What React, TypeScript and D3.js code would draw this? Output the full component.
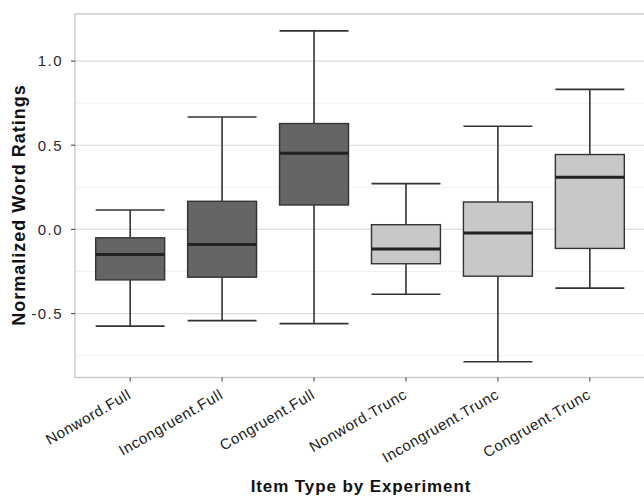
import React from "react";
import * as d3 from "d3";

const categories = ["Nonword.Full", "Incongruent.Full", "Congruent.Full", "Nonword.Trunc", "Incongruent.Trunc", "Congruent.Trunc"];
const lowerWhisker = [-0.575, -0.542, -0.56, -0.385, -0.786, -0.349];
const q1 = [-0.3, -0.284, 0.145, -0.204, -0.278, -0.113];
const median = [-0.149, -0.089, 0.452, -0.117, -0.022, 0.31];
const q3 = [-0.05, 0.167, 0.629, 0.028, 0.163, 0.445];
const upperWhisker = [0.115, 0.668, 1.18, 0.272, 0.613, 0.832];
const experiment = ["Full", "Full", "Full", "Trunc", "Trunc", "Trunc"];
const yTicks = [-0.5, 0.0, 0.5, 1.0];
const yMinor = [-0.75, -0.25, 0.25, 0.75];

const W = 644, H = 497;
const left = 75, right = 645, top = 14, bottom = 377.5;

export default function App() {
  const y = d3.scaleLinear().domain([-0.88, 1.28]).range([bottom, top]);
  const x = d3.scaleLinear().domain([0.4, 6.6]).range([left, right]);
  const fill = d3.scaleOrdinal<string, string>().domain(["Full", "Trunc"]).range(["#656565", "#c8c8c8"]);
  const bw = 0.75 * (x(2) - x(1));
  const font = "Liberation Sans, Arial, sans-serif";
  const fmt = (v: number) => d3.format(".1f")(v).replace("\u2212", "-");
  return (
    <svg width={W} height={H} style={{ position: "absolute", left: 0, top: 0 }} fontFamily={font}>
      <rect x={0} y={0} width={W} height={H} fill="#fff" />
      {yMinor.map((v) => (
        <line key={"m" + v} x1={left} x2={right} y1={y(v)} y2={y(v)} stroke="#f2f2f2" strokeWidth={1} />
      ))}
      {yTicks.map((v) => (
        <line key={"g" + v} x1={left} x2={right} y1={y(v)} y2={y(v)} stroke="#dcdcdc" strokeWidth={1.2} />
      ))}
      <rect x={left} y={top} width={right - left} height={bottom - top} fill="none" stroke="#c4c4c4" strokeWidth={1.3} />
      {categories.map((c, i) => {
        const cx = x(i + 1);
        return (
          <g key={c}>
            <line x1={cx} x2={cx} y1={y(upperWhisker[i])} y2={y(q3[i])} stroke="#333" strokeWidth={1.6} />
            <line x1={cx} x2={cx} y1={y(q1[i])} y2={y(lowerWhisker[i])} stroke="#333" strokeWidth={1.6} />
            <line x1={cx - bw / 2} x2={cx + bw / 2} y1={y(upperWhisker[i])} y2={y(upperWhisker[i])} stroke="#333" strokeWidth={1.6} />
            <line x1={cx - bw / 2} x2={cx + bw / 2} y1={y(lowerWhisker[i])} y2={y(lowerWhisker[i])} stroke="#333" strokeWidth={1.6} />
            <rect x={cx - bw / 2} y={y(q3[i])} width={bw} height={y(q1[i]) - y(q3[i])} fill={fill(experiment[i])} stroke="#333" strokeWidth={1.4} />
            <line x1={cx - bw / 2} x2={cx + bw / 2} y1={y(median[i])} y2={y(median[i])} stroke="#222" strokeWidth={3} />
            <line x1={cx} x2={cx} y1={bottom} y2={bottom + 4} stroke="#555" strokeWidth={1.2} />
            <text
              transform={`translate(${cx + 2},${bottom + 20}) rotate(-30)`}
              textAnchor="end"
              fontSize={15}
              letterSpacing={0.6}
              fill="#1a1a1a"
            >
              {c}
            </text>
          </g>
        );
      })}
      {yTicks.map((v) => (
        <g key={"t" + v}>
          <line x1={left - 4} x2={left} y1={y(v)} y2={y(v)} stroke="#555" strokeWidth={1.2} />
          <text x={left - 12} y={y(v)} dy="0.35em" textAnchor="end" fontSize={15} letterSpacing={1.5} fill="#2a2a2a">
            {fmt(v)}
          </text>
        </g>
      ))}
      <text transform={`translate(25,205) rotate(-90)`} textAnchor="middle" fontSize={18} letterSpacing={1} fontWeight="bold" fill="#111">
        Normalized Word Ratings
      </text>
      <text x={361} y={492} textAnchor="middle" fontSize={17} letterSpacing={0.9} fontWeight="bold" fill="#111">
        Item Type by Experiment
      </text>
    </svg>
  );
}
